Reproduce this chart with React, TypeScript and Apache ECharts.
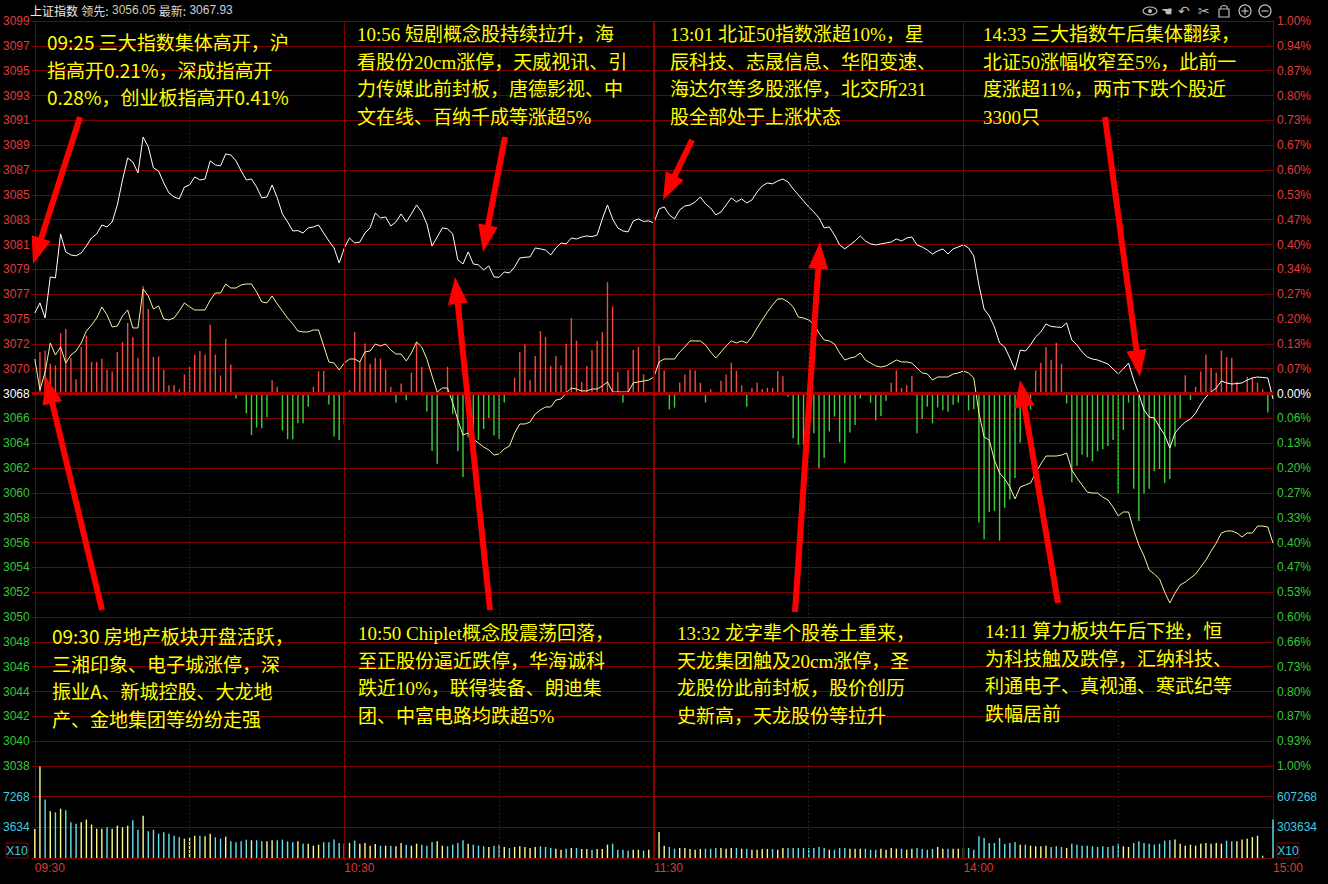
import React, { useEffect, useRef } from "react";
import * as echarts from "echarts";

// previous close of the index: the 0.00% line of the price panel
const PREV_CLOSE = 3068.38;

// tick labels, bottom to top (one per 1/15 of a percent)
const priceTicks = [
  "3038", "3040", "3042", "3044", "3046", "3048", "3050", "3052", "3054", "3056",
  "3058", "3060", "3062", "3064", "3066", "3068", "3070", "3072", "3075", "3077",
  "3079", "3081", "3083", "3085", "3087", "3089", "3091", "3093", "3095", "3097", "3099",
];
const pctTicks = [
  "1.00%", "0.93%", "0.87%", "0.80%", "0.73%", "0.66%", "0.60%", "0.53%", "0.47%", "0.40%",
  "0.33%", "0.27%", "0.20%", "0.13%", "0.06%", "0.00%", "0.07%", "0.13%", "0.20%", "0.27%",
  "0.34%", "0.40%", "0.47%", "0.53%", "0.60%", "0.67%", "0.73%", "0.80%", "0.87%", "0.94%", "1.00%",
];
const volumeTicksLeft = ["", "3634", "7268", ""];
const volumeTicksRight = ["", "303634", "607268", ""];
const timeTicks = ["09:30", "10:30", "11:30", "14:00", "15:00"];

// one value per trading minute, 09:30 .. 11:30 | 13:01 .. 15:00
const indexPrices = [
  3075.01, 3075.84, 3074.60, 3077.98, 3077.90, 3081.52, 3080.04, 3079.79, 3079.72, 3079.96,
  3080.53, 3081.19, 3081.52, 3082.26, 3082.10, 3082.51, 3083.91, 3085.97, 3087.78, 3087.45,
  3086.55, 3089.51, 3088.69, 3086.96, 3086.71, 3085.72, 3084.90, 3084.57, 3084.41, 3085.39,
  3085.56, 3086.22, 3085.97, 3086.05, 3087.54, 3087.21, 3087.13, 3088.11, 3088.03, 3087.54,
  3086.71, 3085.97, 3086.05, 3085.39, 3084.49, 3084.57, 3085.56, 3084.49, 3083.17, 3082.51,
  3081.77, 3081.80, 3081.60, 3082.02, 3082.10, 3082.26, 3081.60, 3080.94, 3080.37, 3079.13,
  3080.37, 3081.19, 3080.78, 3080.85, 3081.60, 3082.02, 3083.25, 3082.84, 3082.92, 3082.18,
  3082.51, 3083.17, 3082.51, 3083.17, 3083.91, 3083.33, 3082.35, 3080.53, 3081.27, 3082.02,
  3081.95, 3081.52, 3079.38, 3079.05, 3080.04, 3079.05, 3078.97, 3078.56, 3078.89, 3077.98,
  3077.95, 3078.39, 3078.31, 3078.80, 3079.54, 3079.60, 3079.63, 3080.37, 3080.29, 3080.20,
  3079.79, 3080.37, 3080.78, 3080.70, 3081.19, 3081.11, 3081.27, 3081.36, 3081.30, 3081.44,
  3082.76, 3083.91, 3082.76, 3082.02, 3081.77, 3081.69, 3082.59, 3082.76, 3082.55, 3082.60,
  3082.43, 3083.58, 3083.75, 3083.09, 3082.76, 3083.50, 3083.83, 3083.90, 3084.16, 3084.57,
  3084.00, 3083.66, 3083.09, 3083.33, 3083.91, 3084.49, 3084.16, 3084.41, 3084.08, 3084.32,
  3084.98, 3085.48, 3085.72, 3085.65, 3085.89, 3086.05, 3085.80, 3085.23, 3084.74, 3084.24,
  3083.75, 3083.33, 3082.84, 3082.02, 3082.10, 3081.44, 3080.62, 3080.29, 3080.62, 3080.94,
  3081.36, 3080.94, 3080.70, 3080.62, 3080.70, 3080.78, 3080.86, 3081.11, 3080.94, 3081.19,
  3081.27, 3080.62, 3080.45, 3080.20, 3079.87, 3080.12, 3080.29, 3079.87, 3080.29, 3080.45,
  3080.62, 3080.37, 3079.71, 3077.32, 3075.34, 3074.77, 3073.86, 3072.54, 3072.21, 3071.30,
  3070.32, 3071.96, 3071.88, 3072.38, 3073.04, 3073.45, 3074.11, 3073.90, 3073.86, 3073.82,
  3074.19, 3072.79, 3072.38, 3071.80, 3071.39, 3071.22, 3071.14, 3070.98, 3070.81, 3070.40,
  3069.99, 3070.40, 3070.89, 3069.49, 3068.34, 3067.02, 3066.44, 3066.36, 3065.62, 3064.96,
  3063.89, 3065.12, 3065.62, 3066.03, 3066.28, 3066.77, 3067.51, 3068.09, 3068.50, 3068.83,
  3069.41, 3069.25, 3069.16, 3069.20, 3069.25, 3069.49, 3069.66, 3069.74, 3069.70, 3069.66,
  3067.93,
];

const leadPrices = [
  3071.22, 3068.67, 3070.15, 3072.54, 3071.55, 3072.21, 3070.89, 3071.55, 3071.88, 3072.54,
  3073.53, 3074.02, 3074.60, 3075.51, 3074.85, 3073.86, 3073.94, 3074.77, 3075.26, 3073.78,
  3073.78, 3076.99, 3076.41, 3075.34, 3075.59, 3074.52, 3074.44, 3074.60, 3075.18, 3075.84,
  3075.51, 3075.26, 3075.26, 3075.26, 3076.08, 3076.66, 3076.66, 3077.40, 3077.07, 3077.07,
  3077.32, 3077.40, 3077.40, 3076.74, 3075.92, 3075.84, 3076.41, 3075.75, 3075.18, 3074.60,
  3074.11, 3073.53, 3073.45, 3073.45, 3073.61, 3073.61, 3072.29, 3070.98, 3070.89, 3070.32,
  3070.89, 3071.22, 3071.22, 3070.98, 3071.80, 3071.88, 3072.46, 3072.29, 3072.46, 3071.96,
  3071.63, 3071.63, 3071.06, 3071.72, 3072.62, 3072.21, 3071.22, 3069.82, 3068.50, 3068.83,
  3068.83, 3067.60, 3066.20, 3064.96, 3065.12, 3064.63, 3064.30, 3063.97, 3063.73, 3063.31,
  3063.40, 3063.81, 3064.05, 3065.12, 3065.87, 3065.87, 3066.03, 3066.69, 3067.02, 3067.27,
  3067.27, 3067.84, 3067.93, 3068.42, 3068.83, 3068.75, 3068.59, 3068.59, 3068.75, 3068.75,
  3069.00, 3069.33, 3068.50, 3068.50, 3068.50, 3068.50, 3069.25, 3069.33, 3069.41, 3069.49,
  3069.74, 3070.98, 3071.22, 3071.22, 3071.22, 3071.80, 3072.21, 3072.71, 3072.71, 3072.71,
  3072.38, 3071.80, 3071.30, 3071.80, 3072.29, 3072.71, 3072.54, 3072.71, 3072.54, 3073.04,
  3073.78, 3074.44, 3075.09, 3075.67, 3076.17, 3076.17, 3075.92, 3075.51, 3074.68, 3074.60,
  3074.44, 3074.11, 3073.36, 3072.79, 3072.71, 3072.46, 3071.72, 3071.14, 3071.30, 3071.39,
  3071.72, 3071.14, 3070.89, 3070.65, 3070.56, 3070.65, 3070.89, 3071.14, 3070.98, 3070.98,
  3070.89, 3070.48, 3070.07, 3069.99, 3069.49, 3069.74, 3069.74, 3069.74, 3069.99, 3070.07,
  3070.23, 3070.07, 3069.66, 3066.77, 3064.80, 3064.55, 3062.90, 3061.83, 3061.34, 3060.68,
  3059.69, 3060.68, 3060.84, 3061.01, 3061.83, 3062.57, 3063.23, 3063.23, 3063.23, 3063.31,
  3063.48, 3062.08, 3061.42, 3060.84, 3060.26, 3060.18, 3060.18, 3059.85, 3059.61, 3059.03,
  3058.29, 3058.62, 3058.62, 3057.13, 3055.90, 3054.99, 3053.84, 3053.51, 3053.10, 3052.03,
  3051.12, 3051.94, 3052.60, 3052.85, 3053.18, 3053.51, 3054.09, 3054.66, 3055.40, 3056.06,
  3056.89, 3057.05, 3057.05, 3056.89, 3056.56, 3056.89, 3056.89, 3057.46, 3057.46, 3057.38,
  3056.05,
];

// net buying strength per minute (red above, green below the 0.00% line)
const breadth = [
  0, 167, 173, 120, 113, 243, 260, 144, 57, 187,
  233, 127, 127, 140, 97, 89, 167, 207, 284, 227,
  144, 432, 340, 147, 149, 97, 33, 33, 17, 77,
  107, 157, 171, 157, 277, 157, 73, 220, 117, -20,
  -4, -80, -167, -137, -140, -96, 53, 27, -149, -184,
  -184, -120, -120, -53, 27, 89, 92, -44, -173, -187,
  -123, 13, 247, 131, 201, 120, 144, 141, 97, 27,
  -36, 40, -27, 84, 207, 107, -72, -232, -283, 8,
  107, -83, -232, -336, -176, -189, -187, -143, -99, -169,
  -183, -36, -4, 64, 167, 197, 53, 151, 251, 227,
  111, 151, 113, 200, 304, 213, 47, 111, 175, 211,
  247, 448, 351, 87, -36, 95, 175, 187, 77, 4,
  0, 193, 93, -64, -57, 44, 77, 97, 93, 43,
  -36, 17, -4, 51, 77, 124, 91, 33, -53, 23,
  44, 17, 23, 23, 91, 69, -13, -180, -207, -207,
  -112, -160, -300, -260, -153, -93, -197, -280, -157, -127,
  -20, -4, -37, -109, -91, -29, 43, 93, 23, 33,
  71, -160, -104, -53, -120, -56, -67, -73, -45, -37,
  4, -68, -63, -520, -587, -477, -473, -593, -460, -427,
  -340, -197, -20, -64, 93, 124, 187, 136, 204, 120,
  -40, -357, -291, -247, -257, -273, -233, -224, -211, -187,
  -403, -147, -37, -384, -513, -403, -384, -313, -304, -360,
  -344, -213, -100, 73, -27, 27, 89, 157, 103, 84,
  173, 147, 143, 47, 4, 67, 64, 44, 16, -77,
  0,
];

// traded volume per minute
const volumes = [
  287000, 905000, 578000, 462000, 452000, 488000, 472000, 353000, 340000, 353000,
  380000, 330000, 290000, 290000, 304000, 290000, 320000, 304000, 320000, 373000,
  280000, 419000, 264000, 280000, 241000, 254000, 241000, 221000, 208000, 191000,
  205000, 221000, 221000, 215000, 241000, 205000, 191000, 211000, 165000, 155000,
  165000, 182000, 175000, 175000, 165000, 165000, 175000, 175000, 182000, 165000,
  155000, 165000, 142000, 142000, 122000, 132000, 155000, 155000, 182000, 149000,
  142000, 149000, 172000, 142000, 149000, 122000, 139000, 122000, 122000, 122000,
  116000, 149000, 132000, 122000, 142000, 132000, 122000, 158000, 165000, 122000,
  116000, 132000, 149000, 175000, 142000, 132000, 122000, 116000, 109000, 122000,
  132000, 109000, 99000, 109000, 116000, 109000, 99000, 109000, 116000, 109000,
  99000, 92000, 82000, 92000, 99000, 99000, 89000, 89000, 82000, 89000,
  89000, 132000, 142000, 82000, 82000, 73000, 82000, 82000, 73000, 82000,
  99000, 257000, 122000, 109000, 92000, 99000, 99000, 89000, 82000, 89000,
  92000, 92000, 99000, 99000, 92000, 99000, 99000, 92000, 92000, 82000,
  82000, 89000, 89000, 89000, 82000, 99000, 99000, 99000, 99000, 99000,
  99000, 99000, 109000, 99000, 82000, 82000, 99000, 99000, 92000, 92000,
  92000, 92000, 82000, 82000, 92000, 82000, 99000, 92000, 92000, 82000,
  92000, 99000, 89000, 82000, 89000, 109000, 92000, 92000, 92000, 92000,
  99000, 99000, 82000, 215000, 198000, 149000, 149000, 198000, 139000, 149000,
  158000, 132000, 132000, 122000, 116000, 116000, 122000, 109000, 116000, 109000,
  99000, 142000, 132000, 122000, 122000, 116000, 109000, 116000, 109000, 122000,
  142000, 116000, 109000, 149000, 165000, 149000, 142000, 132000, 142000, 172000,
  175000, 182000, 142000, 122000, 132000, 122000, 142000, 149000, 142000, 149000,
  142000, 172000, 165000, 165000, 182000, 191000, 208000, 221000, 23000, 0,
  380000,
];

const notes = [
  ["09:25 三大指数集体高开，沪", "指高开0.21%，深成指高开", "0.28%，创业板指高开0.41%"],
  ["10:56 短剧概念股持续拉升，海", "看股份20cm涨停，天威视讯、引", "力传媒此前封板，唐德影视、中", "文在线、百纳千成等涨超5%"],
  ["13:01 北证50指数涨超10%，星", "辰科技、志晟信息、华阳变速、", "海达尔等多股涨停，北交所231", "股全部处于上涨状态"],
  ["14:33 三大指数午后集体翻绿，", "北证50涨幅收窄至5%，此前一", "度涨超11%，两市下跌个股近", "3300只"],
  ["09:30 房地产板块开盘活跃，", "三湘印象、电子城涨停，深", "振业A、新城控股、大龙地", "产、金地集团等纷纷走强"],
  ["10:50 Chiplet概念股震荡回落，", "至正股份逼近跌停，华海诚科", "跌近10%，联得装备、朗迪集", "团、中富电路均跌超5%"],
  ["13:32 龙字辈个股卷土重来，", "天龙集团触及20cm涨停，圣", "龙股份此前封板，股价创历", "史新高，天龙股份等拉升"],
  ["14:11 算力板块午后下挫，恒", "为科技触及跌停，汇纳科技、", "利通电子、真视通、寒武纪等", "跌幅居前"],
];

const GRID = "#7c0000";
const UP = "#e23a3a";
const DOWN = "#35c835";
const CYAN = "#3ecbe0";
const AXIS_FONT = "Liberation Sans";
const CJK = '"Noto Sans CJK SC"';
const SERIF_CJK = '"Liberation Serif", "Noto Sans CJK SC"';

// price -> position on the step axis (15 steps = 1%)
const toStep = (p: number) => (p / PREV_CLOSE - 1) * 1500;

function arrow(sx: number, sy: number, tx: number, ty: number) {
  const dx = tx - sx;
  const dy = ty - sy;
  const len = Math.hypot(dx, dy);
  const ux = dx / len;
  const uy = dy / len;
  const headLen = 27;
  const halfW = 10;
  const bx = tx - ux * headLen;
  const by = ty - uy * headLen;
  const nx = -uy;
  const ny = ux;
  return [
    {
      type: "line",
      shape: { x1: sx, y1: sy, x2: bx + ux * 3, y2: by + uy * 3 },
      style: { stroke: "#ff0000", lineWidth: 6 },
      z: 100,
    },
    {
      type: "polygon",
      shape: {
        points: [
          [tx, ty],
          [bx + nx * halfW, by + ny * halfW],
          [bx - nx * halfW, by - ny * halfW],
        ],
      },
      style: { fill: "#ff0000" },
      z: 100,
    },
  ];
}

export default function App() {
  const ref = useRef<HTMLDivElement>(null);

  useEffect(() => {
    if (!ref.current) return;
    const chart = echarts.init(ref.current, undefined, { renderer: "svg" });

    const lineData = indexPrices.map((p, i) => [i, toStep(p)]);
    const leadData = leadPrices.map((p, i) => [i, toStep(p)]);
    const breadthData = breadth.map((v, i) => ({
      value: [i, v],
      itemStyle: { color: v >= 0 ? "#ee4a40" : "#3ccf3c" },
    }));
    const volumeData = volumes.map((v, i) => {
      const prev = i === 0 ? PREV_CLOSE : indexPrices[i - 1];
      const rising = indexPrices[i] >= prev;
      return { value: [i, v], itemStyle: { color: rising ? "#fbfb8c" : "#62e2ee" } };
    });

    const stepLabel = (ticks: string[]) => (v: number) => {
      const k = Math.round(v);
      const cls = k > 0 ? "u" : k < 0 ? "d" : "z";
      return `{${cls}|${ticks[k + 15]}}`;
    };
    const stepRich = {
      u: { color: UP, fontSize: 12, fontFamily: AXIS_FONT },
      d: { color: DOWN, fontSize: 12, fontFamily: AXIS_FONT },
      z: { color: "#ffffff", fontSize: 12, fontFamily: AXIS_FONT },
    };

    const vLines = (solidWidth: number) => [
      { xAxis: 60, lineStyle: { color: GRID, width: 1, type: "solid" } },
      { xAxis: 120, lineStyle: { color: "#8a0000", width: solidWidth, type: "solid" } },
      { xAxis: 180, lineStyle: { color: GRID, width: 1, type: "solid" } },
      { xAxis: 30, lineStyle: { color: "#9a1010", width: 1, type: [1, 3] } },
      { xAxis: 90, lineStyle: { color: "#9a1010", width: 1, type: [1, 3] } },
      { xAxis: 150, lineStyle: { color: "#9a1010", width: 1, type: [1, 3] } },
      { xAxis: 210, lineStyle: { color: "#9a1010", width: 1, type: [1, 3] } },
    ];

    // first-line anchor of each note block, and whether its Latin text is set in serif
    const notePos = [
      [47, 28], [357, 21], [670, 21], [983, 21],
      [52, 622], [358, 620], [677, 620], [985, 618],
    ];
    const noteSerif = [false, true, true, true, false, true, true, true];
    const noteEls = notes.map((lines, i) => ({
      type: "text",
      x: notePos[i][0],
      y: notePos[i][1],
      z: 90,
      style: {
        text: lines.join("\n"),
        fill: "#ffff00",
        font: `19px ${noteSerif[i] ? SERIF_CJK : CJK}`,
        lineHeight: 27.5,
        verticalAlign: "top",
      },
    }));

    const arrows = [
      [80, 117, 33, 264],
      [505, 137, 483, 252],
      [490, 610, 455, 277],
      [692, 140, 663, 200],
      [795, 612, 820, 242],
      [1105, 117, 1140, 377],
      [1058, 603, 1020, 380],
      [102, 610, 46, 377],
    ].flatMap((a) => arrow(a[0], a[1], a[2], a[3]));

    const iconColor = "#bdbdbd";
    const icons = [
      // eye
      { type: "ellipse", shape: { cx: 1150, cy: 11, rx: 7, ry: 4 }, style: { stroke: iconColor, fill: "none", lineWidth: 1.2 } },
      { type: "circle", shape: { cx: 1150, cy: 11, r: 2 }, style: { fill: iconColor } },
      // hand
      { type: "text", x: 1161, y: 11, style: { text: "☚", fill: iconColor, font: "13px DejaVu Sans", verticalAlign: "middle" } },
      // undo
      { type: "text", x: 1178, y: 11, style: { text: "↶", fill: iconColor, font: "14px DejaVu Sans", verticalAlign: "middle" } },
      // scissors
      { type: "text", x: 1198, y: 11, style: { text: "✂", fill: iconColor, font: "14px DejaVu Sans", verticalAlign: "middle" } },
      // lock
      { type: "rect", shape: { x: 1219, y: 9, width: 10, height: 8 }, style: { stroke: iconColor, fill: "none", lineWidth: 1.2 } },
      { type: "arc", shape: { cx: 1224, cy: 9, r: 3.5, startAngle: Math.PI, endAngle: Math.PI * 2 }, style: { stroke: iconColor, fill: "none", lineWidth: 1.2 } },
      // zoom in
      { type: "circle", shape: { cx: 1245, cy: 11, r: 6 }, style: { stroke: iconColor, fill: "none", lineWidth: 1.2 } },
      { type: "line", shape: { x1: 1241.5, y1: 11, x2: 1248.5, y2: 11 }, style: { stroke: iconColor, lineWidth: 1.2 } },
      { type: "line", shape: { x1: 1245, y1: 7.5, x2: 1245, y2: 14.5 }, style: { stroke: iconColor, lineWidth: 1.2 } },
      // zoom out
      { type: "circle", shape: { cx: 1265, cy: 11, r: 6 }, style: { stroke: iconColor, fill: "none", lineWidth: 1.2 } },
      { type: "line", shape: { x1: 1261.5, y1: 11, x2: 1268.5, y2: 11 }, style: { stroke: iconColor, lineWidth: 1.2 } },
    ];

    const last = indexPrices[indexPrices.length - 1];
    const lastLead = leadPrices[leadPrices.length - 1];

    const title = {
      type: "text",
      x: 30,
      y: 10,
      style: {
        text: `{a|上证指数} {b|领先:} {c|${lastLead.toFixed(2)}} {b|最新:} {d|${last.toFixed(2)}}`,
        verticalAlign: "middle",
        rich: {
          a: { fill: "#ececec", font: `12px ${CJK}` },
          b: { fill: "#d8d8d8", font: `12px ${CJK}` },
          c: { fill: "#cfcfa8", font: `12px ${AXIS_FONT}` },
          d: { fill: "#c8d0d8", font: `12px ${AXIS_FONT}` },
        },
      },
    };

    const x10 = (x: number) => [
      { type: "rect", shape: { x, y: 843, width: 22, height: 15 }, style: { stroke: "#8a0000", fill: "none", lineWidth: 1 } },
      { type: "text", x: x + 11, y: 851, style: { text: "X10", fill: CYAN, font: `12px ${AXIS_FONT}`, align: "center", verticalAlign: "middle" } },
    ];

    chart.setOption({
      animation: false,
      backgroundColor: "#000000",
      grid: [
        { left: 30, top: 21, width: 1243, height: 745 },
        { left: 30, top: 766, width: 1243, height: 92 },
      ],
      xAxis: [
        { type: "value", gridIndex: 0, min: -0.6, max: 240, show: false },
        {
          type: "value",
          gridIndex: 1,
          min: -0.6,
          max: 240,
          axisLine: { show: true, lineStyle: { color: GRID, width: 1 } },
          axisTick: { show: false },
          splitLine: { show: false },
          axisLabel: {
            customValues: [0, 60, 120, 180, 240],
            formatter: (v: number) => timeTicks[Math.round(v / 60)] ?? "",
            color: "#d83a3a",
            fontSize: 12,
            fontFamily: AXIS_FONT,
            align: "left",
            margin: 4,
          },
        },
      ],
      yAxis: [
        {
          type: "value",
          gridIndex: 0,
          position: "left",
          min: -15,
          max: 15,
          interval: 1,
          axisLine: { show: true, lineStyle: { color: GRID } },
          axisTick: { show: false },
          splitLine: { show: true, lineStyle: { color: GRID, width: 1 } },
          axisLabel: { formatter: stepLabel(priceTicks), rich: stepRich, margin: 2 },
        },
        {
          type: "value",
          gridIndex: 0,
          position: "right",
          min: -15,
          max: 15,
          interval: 1,
          axisLine: { show: true, lineStyle: { color: GRID } },
          axisTick: { show: false },
          splitLine: { show: false },
          axisLabel: { formatter: stepLabel(pctTicks), rich: stepRich, margin: 4 },
        },
        { type: "value", gridIndex: 0, min: -1500, max: 1500, show: false, splitLine: { show: false } },
        {
          type: "value",
          gridIndex: 1,
          position: "left",
          min: 0,
          max: 910902,
          interval: 303634,
          axisLine: { show: true, lineStyle: { color: GRID } },
          axisTick: { show: false },
          splitLine: { show: true, lineStyle: { color: GRID, width: 1 } },
          axisLabel: {
            formatter: (v: number) => volumeTicksLeft[Math.round(v / 303634)] ?? "",
            color: CYAN,
            fontSize: 12,
            fontFamily: AXIS_FONT,
            margin: 2,
          },
        },
        {
          type: "value",
          gridIndex: 1,
          position: "right",
          min: 0,
          max: 910902,
          interval: 303634,
          axisLine: { show: true, lineStyle: { color: GRID } },
          axisTick: { show: false },
          splitLine: { show: false },
          axisLabel: {
            formatter: (v: number) => volumeTicksRight[Math.round(v / 303634)] ?? "",
            color: CYAN,
            fontSize: 12,
            fontFamily: AXIS_FONT,
            margin: 4,
          },
        },
      ],
      series: [
        {
          name: "强弱",
          type: "bar",
          xAxisIndex: 0,
          yAxisIndex: 2,
          barWidth: 1.4,
          data: breadthData,
          silent: true,
          markLine: {
            silent: true,
            symbol: ["none", "none"],
            label: { show: false },
            data: [
              ...vLines(2),
              { yAxis: 0, lineStyle: { color: "#a00000", width: 3, type: "solid" } },
            ],
          },
        },
        {
          name: "领先",
          type: "line",
          xAxisIndex: 0,
          yAxisIndex: 0,
          data: leadData,
          symbol: "none",
          lineStyle: { color: "#f4f4a4", width: 1 },
          z: 3,
        },
        {
          name: "上证指数",
          type: "line",
          xAxisIndex: 0,
          yAxisIndex: 0,
          data: lineData,
          symbol: "none",
          lineStyle: { color: "#ffffff", width: 1 },
          z: 4,
        },
        {
          name: "成交量",
          type: "bar",
          xAxisIndex: 1,
          yAxisIndex: 3,
          barWidth: 1.4,
          data: volumeData,
          silent: true,
          markLine: {
            silent: true,
            symbol: ["none", "none"],
            label: { show: false },
            data: vLines(2),
          },
        },
      ],
      graphic: {
        elements: [title, ...icons, ...x10(6), ...x10(1277), ...noteEls, ...arrows],
      },
    });

    return () => chart.dispose();
  }, []);

  return (
    <div
      ref={ref}
      style={{ position: "fixed", left: 0, top: 0, width: 1328, height: 884, background: "#000" }}
    />
  );
}
